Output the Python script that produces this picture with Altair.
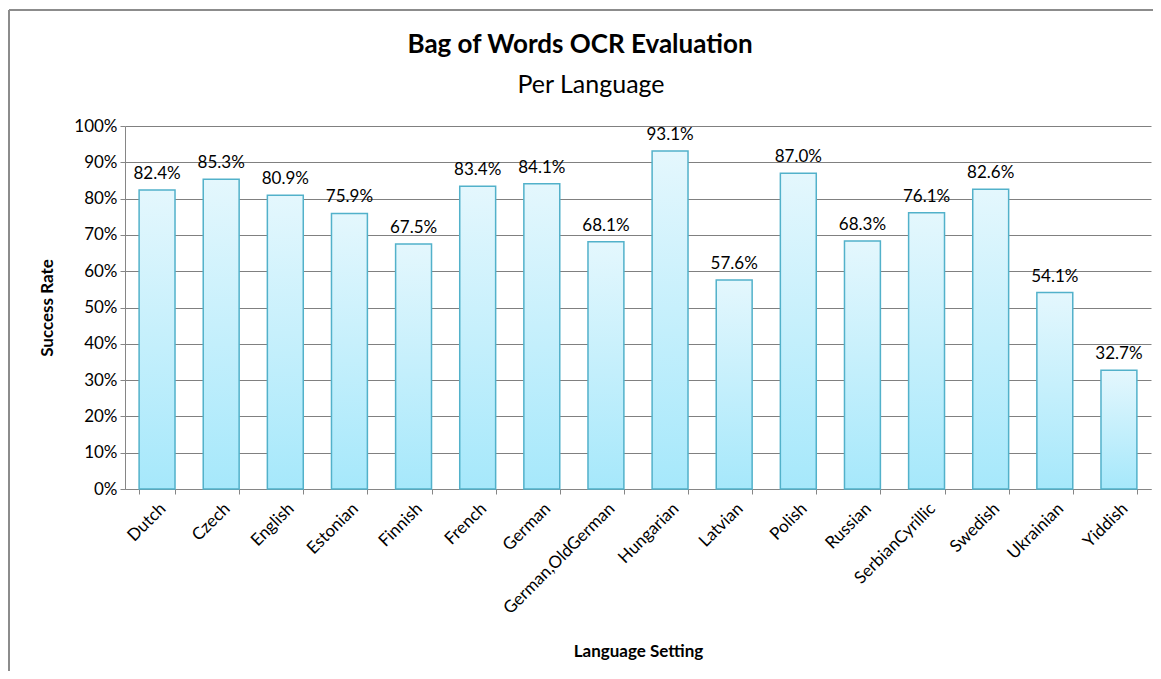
import altair as alt
import pandas as pd

languages = ["Dutch", "Czech", "English", "Estonian", "Finnish", "French", "German",
             "German,OldGerman", "Hungarian", "Latvian", "Polish", "Russian",
             "SerbianCyrillic", "Swedish", "Ukrainian", "Yiddish"]
success = [82.4, 85.3, 80.9, 75.9, 67.5, 83.4, 84.1, 68.1, 93.1, 57.6, 87.0, 68.3,
           76.1, 82.6, 54.1, 32.7]
y_ticks = [0, 0.1, 0.2, 0.3, 0.4, 0.5, 0.6, 0.7, 0.8, 0.9, 1.0]
title_text = "Bag of Words OCR Evaluation"
subtitle_text = "Per Language"

df = pd.DataFrame({"lang": languages, "rate": [v / 100 for v in success]})

FONT = "Lato"
W, H = 1026, 363

x = alt.X("lang:N", sort=languages,
          scale=alt.Scale(paddingInner=0.44, paddingOuter=0.22),
          axis=alt.Axis(title="Language Setting", labelAngle=-45, labelAlign="right",
                        labelBaseline="top", labelFontSize=17, labelColor="#000",
                        labelFont=FONT, labelPadding=6, tickBand="extent",
                        tickSize=5, tickColor="#868686", domainColor="#868686",
                        titleFont=FONT, titleFontSize=17, titleFontWeight="bold",
                        titleColor="#000", titleY=162, titleBaseline="middle"))
y = alt.Y("rate:Q", scale=alt.Scale(domain=[0, 1]),
          axis=alt.Axis(title="Success Rate", format=".0%", values=y_ticks,
                        labelOverlap=False,
                        labelFontSize=17, labelFont=FONT, labelColor="#000",
                        tickSize=5, tickColor="#868686", domainColor="#868686",
                        gridColor="#808080", gridWidth=1, labelPadding=3,
                        titleFont=FONT, titleFontSize=17, titleFontWeight="bold",
                        titleColor="#000", titleX=-78, titleY=H / 2,
                        titleAlign="center", titleBaseline="middle"))

base = alt.Chart(df)

bars = base.mark_bar(
    color=alt.Gradient(gradient="linear", x1=0, y1=0, x2=0, y2=1,
                       stops=[alt.GradientStop(color="#e4f7fd", offset=0),
                              alt.GradientStop(color="#a6e8fb", offset=1)]),
    stroke="#52b1ca", strokeWidth=1.5
).encode(x=x, y=y)

labels = base.mark_text(baseline="bottom", dy=-7, fontSize=17, font=FONT,
                        color="#000").encode(
    x=x, y=y, text=alt.Text("rate:Q", format=".1%"))

border_left = base.mark_rule(color="#8c8c8c", strokeWidth=1.5, clip=False).encode(
    x=alt.value(-116), y=alt.value(-116), y2=alt.value(600))
border_top = base.mark_rule(color="#8c8c8c", strokeWidth=1.5, clip=False).encode(
    x=alt.value(-116), x2=alt.value(1100), y=alt.value(-116))

title = alt.Chart(pd.DataFrame({"t": [title_text]})).mark_text(
    font=FONT, fontSize=26, fontWeight="bold", color="#000", align="center",
    baseline="middle").encode(x=alt.value(455), y=alt.value(-81), text="t:N")
subtitle = alt.Chart(pd.DataFrame({"t": [subtitle_text]})).mark_text(
    font=FONT, fontSize=25, color="#000", align="center",
    baseline="middle").encode(x=alt.value(466), y=alt.value(-41), text="t:N")

chart = alt.layer(border_left, border_top, bars, labels, title, subtitle).properties(
    width=W, height=H,
    autosize=alt.AutoSizeParams(type="none"),
    padding={"left": 117, "top": 118, "right": 2, "bottom": 182},
).configure_view(stroke=None).configure_axisX(grid=False)

chart.save("out.html", embed_options={"renderer": "svg", "actions": False})
